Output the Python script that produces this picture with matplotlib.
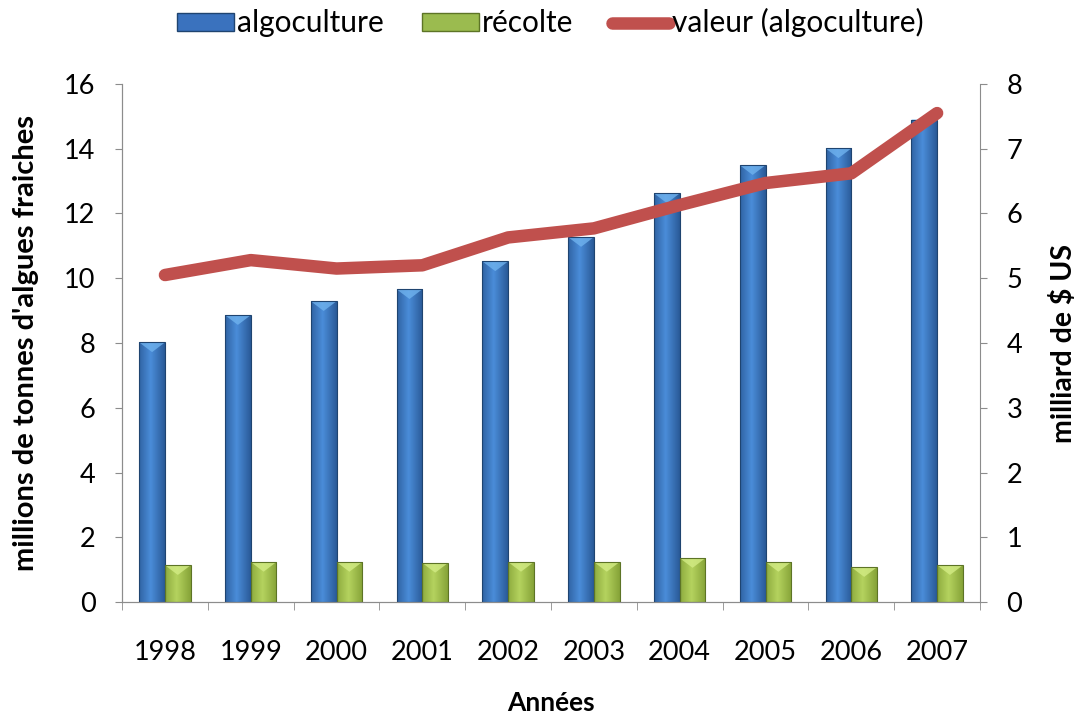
import matplotlib.pyplot as plt
import numpy as np
from matplotlib.lines import Line2D
from matplotlib.patches import Patch, Polygon
from matplotlib.colors import LinearSegmentedColormap

years = ['1998', '1999', '2000', '2001', '2002', '2003', '2004', '2005', '2006', '2007']
algoculture = [8.02, 8.86, 9.29, 9.66, 10.52, 11.27, 12.62, 13.49, 14.01, 14.90]
recolte = [1.14, 1.24, 1.24, 1.21, 1.24, 1.24, 1.36, 1.24, 1.08, 1.14]
valeur = [5.05, 5.28, 5.15, 5.20, 5.63, 5.77, 6.13, 6.47, 6.62, 7.55]

plt.rcParams['font.family'] = ['Lato', 'DejaVu Sans']

fig = plt.figure(figsize=(10.83, 7.16), dpi=100, facecolor='white')
ax = fig.add_axes([0.1127, 0.159, 0.7922, 0.7238])
ax2 = ax.twinx()

x = np.arange(len(years))
w = 0.3

ax.set_xlim(-0.5, len(years) - 0.5)
ax.set_ylim(0, 16)
ax2.set_ylim(0, 8)


def gradient_bars(bars, dark, light, edge, top):
    # horizontal shading: dark at the edges, light in the middle
    grad = np.linspace(0, 1, 64)
    grad = 1 - np.abs(grad - 0.45) * 1.7
    grad = np.clip(grad, 0, 1).reshape(1, -1)
    cmap = LinearSegmentedColormap.from_list('g', [dark, light])
    tri_h = 0.3  # about 10 px on this axis
    for b in bars:
        bx, by = b.get_x(), b.get_y()
        bw, bh = b.get_width(), b.get_height()
        im = ax.imshow(grad, cmap=cmap, extent=[bx, bx + bw, by, by + bh],
                       aspect='auto', zorder=2, origin='lower')
        im.set_clip_path(b)
        # bevel highlight at the top
        ax.add_patch(Polygon([(bx, by + bh), (bx + bw, by + bh),
                              (bx + bw / 2, by + bh - tri_h)],
                             closed=True, facecolor=top, edgecolor='none',
                             alpha=0.8, zorder=2.5))
        b.set_facecolor('none')
        b.set_edgecolor(edge)
        b.set_linewidth(0.8)
        b.set_zorder(3)


b1 = ax.bar(x - w / 2, algoculture, w, color='#3a72be', zorder=2)
b2 = ax.bar(x + w / 2, recolte, w, color='#9bbb4f', zorder=2)
gradient_bars(b1, '#2a5a98', '#4a8cd8', '#1f4470', '#6fb2ee')
gradient_bars(b2, '#86a338', '#b4d25e', '#5d7426', '#d3ec85')

ax2.plot(x, valeur, color='#c0504d', linewidth=9, solid_capstyle='round',
         solid_joinstyle='round', zorder=5)

ax.set_yticks(range(0, 17, 2))
ax2.set_yticks(range(0, 9))

ax.set_xticks(x)
ax.set_xticklabels(years)
ax.set_xticks(np.arange(-0.5, len(years), 1), minor=True)
ax.tick_params(axis='x', which='major', length=0, pad=27, labelsize=19.5)
ax.tick_params(axis='x', which='minor', length=6, color='#8c8c8c')
ax.tick_params(axis='y', length=5, color='#8c8c8c', labelsize=19.5, pad=14)
ax2.tick_params(axis='y', length=5, color='#8c8c8c', labelsize=19.5, pad=14)

for a in (ax, ax2):
    for s in a.spines.values():
        s.set_color('#8c8c8c')
    a.spines['top'].set_visible(False)
ax.spines['right'].set_visible(False)

ax.set_ylabel("millions de tonnes d'algues fraiches", fontsize=21, fontweight='bold')
ax.yaxis.set_label_coords(-0.097, 0.5)
ax2.set_ylabel('milliard de $ US', fontsize=20.5, fontweight='bold')
ax2.yaxis.set_label_coords(1.082, 0.5)
ax.set_xlabel('Années', fontsize=19, fontweight='bold')
ax.xaxis.set_label_coords(0.5, -0.172)

handles = [Patch(facecolor='#3a72be', edgecolor='#1f4470'),
           Patch(facecolor='#9bbb4f', edgecolor='#5d7426'),
           Line2D([0], [0], color='#c0504d', linewidth=9, solid_capstyle='round')]
fig.legend(handles, ['algoculture', 'récolte', 'valeur (algoculture)'],
           loc='center', bbox_to_anchor=(0.508, 0.968), ncol=3, frameon=False,
           fontsize=21.5, handlelength=1.9, handleheight=0.55,
           handletextpad=0.1, columnspacing=1.3)

fig.savefig('out.png', dpi=100, facecolor='white')
